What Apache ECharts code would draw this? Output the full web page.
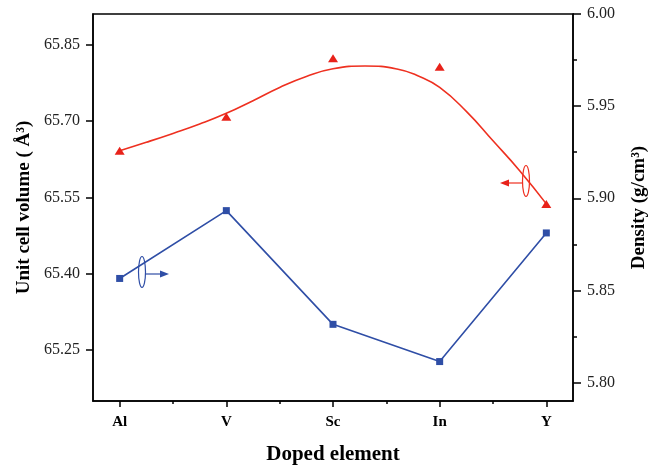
<!DOCTYPE html>
<html>
<head>
<meta charset="utf-8">
<script src="https://cdn.jsdelivr.net/npm/echarts@6/dist/echarts.min.js"></script>
<style>html,body{margin:0;padding:0;background:#fff}#c{width:648px;height:468px}</style>
</head>
<body>
<div id="c"></div>
<script>
// ---- data ----
const categories = ['Al', 'V', 'Sc', 'In', 'Y'];
const volumeValues = [65.6415, 65.708, 65.823, 65.8065, 65.537];      // red triangles, left axis
const densityValues = [5.8565, 5.8933, 5.8316, 5.8114, 5.8812];       // blue squares, right axis
// fitted red curve: [x position, volume]
const fitX = [0, 0.25, 0.5, 0.75, 1, 1.25, 1.5, 1.75, 2, 2.3, 2.6, 2.8, 3, 3.25, 3.5, 3.75, 4];
const fitV = [65.6415, 65.6581, 65.6755, 65.6939, 65.7149, 65.7398, 65.7658, 65.7873, 65.8024,
              65.8079, 65.8020, 65.7883, 65.7658, 65.7188, 65.6610, 65.6023, 65.5371];
const leftTicks = [65.25, 65.40, 65.55, 65.70, 65.85];
const rightTicks = [5.80, 5.85, 5.90, 5.95, 6.00];
const rightMinorTicks = [5.825, 5.875, 5.925, 5.975];
const xMajorTicks = [0, 1, 2, 3, 4];
const xMinorTicks = [0.5, 1.5, 2.5, 3.5];

const chart = echarts.init(document.getElementById('c'), null, {renderer: 'canvas'});
const serif = 'Liberation Serif';
const RED = '#e8221a', LINE_RED = '#ee3020', BLUE = '#2f4ea6';

const option = {
  backgroundColor: '#fff',
  animation: false,
  grid: {left: 93, right: 75, top: 14, bottom: 67, containLabel: false, outerBoundsMode: 'none',
         show: true, borderColor: '#000', borderWidth: 1.5, backgroundColor: 'transparent'},
  xAxis: [{
    type: 'value', min: -0.25, max: 4.25,
    name: 'Doped element', nameLocation: 'middle', nameGap: 43,
    nameTextStyle: {fontFamily: serif, fontWeight: 'bold', fontSize: 21, color: '#000'},
    axisLine: {show: true, onZero: false, lineStyle: {color: '#000', width: 1.5}},
    axisTick: {show: true, inside: false, length: 6, lineStyle: {color: '#000', width: 1.5}, customValues: xMajorTicks},
    axisLabel: {show: true, margin: 14, fontFamily: serif, fontWeight: 'bold', fontSize: 15, color: '#000',
      customValues: xMajorTicks, formatter: v => categories[Math.round(v)] || ''},
    splitLine: {show: false}
  }, {
    type: 'value', min: -0.25, max: 4.25, position: 'bottom',
    axisLine: {show: false, onZero: false},
    axisTick: {show: true, inside: false, length: 3, lineStyle: {color: '#000', width: 1.5}, customValues: xMinorTicks},
    axisLabel: {show: false},
    splitLine: {show: false}
  }],
  yAxis: [{
    type: 'value', min: 65.15, max: 65.91, position: 'left',
    name: 'Unit cell volume ( Å³)', nameLocation: 'middle', nameGap: 57, nameRotate: 90,
    nameTextStyle: {fontFamily: serif, fontWeight: 'bold', fontSize: 19, color: '#000'},
    axisLine: {show: true, onZero: false, lineStyle: {color: '#000', width: 1.5}},
    axisTick: {show: true, inside: false, length: 7, lineStyle: {color: '#000', width: 1.5}, customValues: leftTicks},
    axisLabel: {margin: 13, fontFamily: serif, fontSize: 16, color: '#222', customValues: leftTicks, formatter: v => v.toFixed(2)},
    splitLine: {show: false}
  }, {
    type: 'value', min: 5.79, max: 6.00, position: 'right',
    name: 'Density (g/cm³)', nameLocation: 'middle', nameGap: 57, nameRotate: 90,
    nameTextStyle: {fontFamily: serif, fontWeight: 'bold', fontSize: 19, color: '#000'},
    axisLine: {show: true, onZero: false, lineStyle: {color: '#000', width: 1.5}},
    axisTick: {show: true, inside: false, length: 8, lineStyle: {color: '#000', width: 1.5}, customValues: rightTicks},
    axisLabel: {margin: 14, fontFamily: serif, fontSize: 16, color: '#222', customValues: rightTicks, formatter: v => v.toFixed(2)},
    splitLine: {show: false}
  }, {
    type: 'value', min: 5.79, max: 6.00, position: 'right',
    axisLine: {show: false, onZero: false},
    axisTick: {show: true, inside: false, length: 4, lineStyle: {color: '#000', width: 1.5}, customValues: rightMinorTicks},
    axisLabel: {show: false},
    splitLine: {show: false}
  }],
  series: [{
    name: 'fit', type: 'line', xAxisIndex: 0, yAxisIndex: 0,
    data: fitX.map((x, i) => [x, fitV[i]]),
    smooth: true, showSymbol: false, symbol: 'none',
    lineStyle: {color: LINE_RED, width: 1.6}, z: 2
  }, {
    name: 'volume', type: 'scatter', xAxisIndex: 0, yAxisIndex: 0,
    data: volumeValues.map((v, i) => [i, v]),
    symbol: 'triangle', symbolSize: [10, 8],
    itemStyle: {color: RED, opacity: 1}, z: 3
  }, {
    name: 'density', type: 'line', xAxisIndex: 0, yAxisIndex: 1,
    data: densityValues.map((v, i) => [i, v]),
    symbol: 'rect', symbolSize: 7, showSymbol: true,
    lineStyle: {color: BLUE, width: 1.6}, itemStyle: {color: BLUE}, z: 3
  }],
  graphic: [
    {type: 'ellipse', shape: {cx: 142, cy: 272, rx: 3.5, ry: 15.5}, style: {fill: 'none', stroke: BLUE, lineWidth: 1.2}, z: 10},
    {type: 'line', shape: {x1: 146, y1: 274, x2: 162, y2: 274}, style: {stroke: BLUE, lineWidth: 1.2}, z: 10},
    {type: 'polygon', shape: {points: [[160, 270.5], [169, 274], [160, 277.5]]}, style: {fill: BLUE}, z: 10},
    {type: 'ellipse', shape: {cx: 526, cy: 181, rx: 3.5, ry: 15.5}, style: {fill: 'none', stroke: LINE_RED, lineWidth: 1.2}, z: 10},
    {type: 'line', shape: {x1: 523, y1: 183, x2: 507, y2: 183}, style: {stroke: LINE_RED, lineWidth: 1.2}, z: 10},
    {type: 'polygon', shape: {points: [[509, 179.5], [500, 183], [509, 186.5]]}, style: {fill: RED}, z: 10}
  ]
};
chart.setOption(option);
</script>
</body>
</html>
